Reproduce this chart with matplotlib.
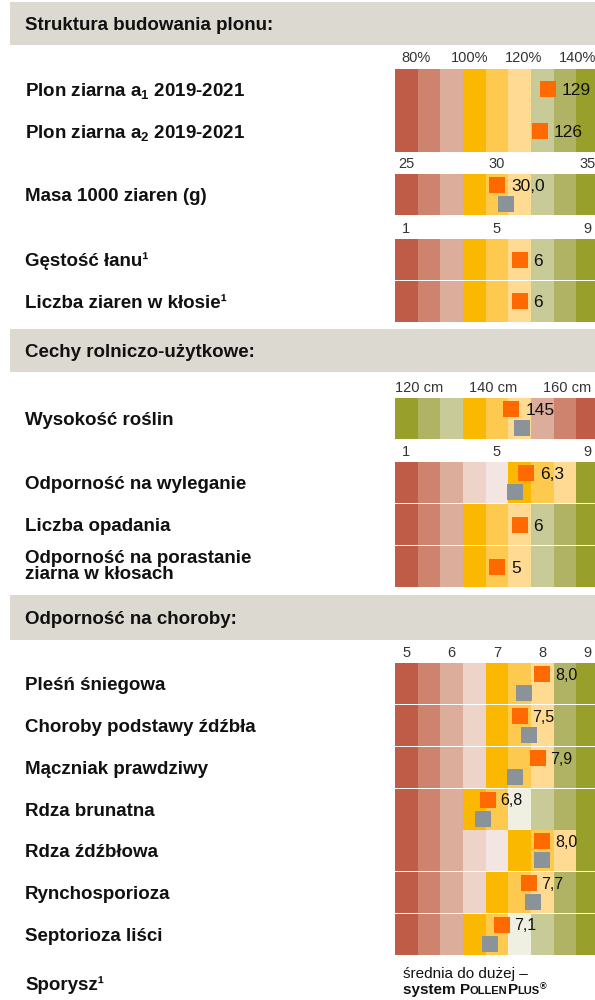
import matplotlib
matplotlib.use('Agg')
import matplotlib.pyplot as plt
import numpy as np
from matplotlib.patches import Rectangle

plt.rcParams['font.family'] = ['Liberation Sans', 'DejaVu Sans']
plt.rcParams['mathtext.fontset'] = 'custom'
plt.rcParams['mathtext.rm'] = 'Liberation Sans'
plt.rcParams['mathtext.bf'] = 'Liberation Sans:bold'
plt.rcParams['mathtext.default'] = 'regular'

# kolory skali (9 pol)
R1, R2, R3 = '#BE5C48', '#CD836E', '#DDAD9B'
P1, P2 = '#EED3C9', '#F3E6E2'
Y1, Y2, Y3 = '#FBB800', '#FDC94F', '#FEDA93'
CR = '#EFEFE2'
G1, G2, G3 = '#C8CA98', '#B0B264', '#98A02B'
POMARANCZ = '#FF6A00'
SZARY = '#8A9399'
TLO_NAGLOWKA = '#DCDAD0'

sekcje = ['Struktura budowania plonu:', 'Cechy rolniczo-użytkowe:', 'Odporność na choroby:']

cechy = ['Plon ziarna a$_\\mathbf{1}$ 2019-2021', 'Plon ziarna a$_\\mathbf{2}$ 2019-2021',
         'Masa 1000 ziaren (g)',
         'Gęstość łanu¹', 'Liczba ziaren w kłosie¹',
         'Wysokość roślin', 'Odporność na wyleganie', 'Liczba opadania',
         'Odporność na porastanie\nziarna w kłosach',
         'Pleśń śniegowa', 'Choroby podstawy źdźbła', 'Mączniak prawdziwy', 'Rdza brunatna',
         'Rdza źdźbłowa', 'Rynchosporioza', 'Septorioza liści']
odmiana = [129, 126, 30.0, 6, 6, 145, 6.3, 6, 5, 8.0, 7.5, 7.9, 6.8, 8.0, 7.7, 7.1]
odmiana_txt = ['129', '126', '30,0', '6', '6', '145', '6,3', '6', '5',
               '8,0', '7,5', '7,9', '6,8', '8,0', '7,7', '7,1']
wzorzec = [None, None, 30.5, None, None, 148, 5.8, None, None,
           7.6, 7.7, 7.4, 6.7, 8.0, 7.8, 6.85]
skala_wiersza = ['plon', 'plon', 'masa', 'pkt', 'pkt', 'cm', 'pkt', 'pkt', 'pkt',
                 'chor', 'chor', 'chor', 'chor', 'chor', 'chor', 'chor']

# wartosc -> pole (0..9): (v0, pole0, v1, pole1)
skale = {'plon': (100, 3.3, 140, 8.05),
         'masa': (25, 0.5, 35, 8.5),
         'pkt': (1, 0.5, 9, 8.5),
         'cm': (120, 1.06, 140, 4.32),
         'chor': (5, 0.5, 9, 8.5)}

podzialki = {0: ([80, 100, 120, 140], ['80%', '100%', '120%', '140%']),
             2: ([25, 30, 35], ['25', '30', '35']),
             3: ([1, 5, 9], ['1', '5', '9']),
             5: ([120, 140, 160], ['120 cm', '140 cm', '160 cm']),
             6: ([1, 5, 9], ['1', '5', '9']),
             9: ([5, 6, 7, 8, 9], ['5', '6', '7', '8', '9'])}

STD = [R1, R2, R3, Y1, Y2, Y3, G1, G2, G3]
ODWR = [G3, G2, G1, Y1, Y2, Y3, R3, R2, R1]
WYL = [R1, R2, R3, P1, P2, Y1, Y2, Y3, G3]
CH1 = [R1, R2, R3, P1, Y1, Y2, Y3, G2, G3]
CH2 = [R1, R2, R3, Y1, Y2, CR, G1, G2, G3]
kolory_wiersza = [STD, STD, STD, STD, STD, ODWR, WYL, STD, STD,
                  CH1, CH1, CH1, CH2, WYL, CH1, CH2]

# uklad (piksele)
W, H = 595, 1000
gora = [68.5, 110.5, 174, 239, 280.5, 398, 462, 504, 546,
        663, 705, 747, 788.5, 830, 872, 913.5]
wys_pasa = 41
pasy_naglowkow = [(2, 45), (329, 372), (595, 640)]
X0, POLE = 395, 22.67

fig = plt.figure(figsize=(W / 100, H / 100), dpi=100)
fig.patch.set_facecolor('white')
page = fig.add_axes([0, 0, 1, 1])
page.set_xlim(0, W)
page.set_ylim(H, 0)
page.axis('off')

FS_LAB = 13.5
cap = FS_LAB / 0.72 * 0.36

for (y0, y1), tytul in zip(pasy_naglowkow, sekcje):
    page.add_patch(Rectangle((10, y0), W - 10, y1 - y0, color=TLO_NAGLOWKA, lw=0))
    page.text(25, (y0 + y1) / 2 + cap, tytul, fontsize=FS_LAB, fontweight='bold',
              va='baseline', color='#111111')

def na_pole(v, klucz):
    v0, c0, v1, c1 = skale[klucz]
    return c0 + (v - v0) * (c1 - c0) / (v1 - v0)

for i in range(len(cechy)):
    yc = gora[i] + wys_pasa / 2
    if '\n' in cechy[i]:
        page.text(25, yc, cechy[i], fontsize=FS_LAB, fontweight='bold', va='center',
                  linespacing=0.9, color='#111111')
    else:
        page.text(25, yc + cap, cechy[i], fontsize=FS_LAB, fontweight='bold',
                  va='baseline', color='#111111')

    ax = fig.add_axes([X0 / W, 1 - (gora[i] + wys_pasa) / H, 9 * POLE / W, wys_pasa / H])
    ax.set_xlim(0, 9)
    ax.set_ylim(0, 1)
    ax.axis('off')
    ax.bar(np.arange(9), 1, width=1, align='edge', color=kolory_wiersza[i], linewidth=0)

    k = skala_wiersza[i]
    fs_val = 11.5 if k == 'chor' else 12.5
    odst = 9 if k == 'chor' else 10
    xo = na_pole(odmiana[i], k)
    if wzorzec[i] is None:
        yo = 0.5
    else:
        yo = 1 - 11 / wys_pasa
        ax.plot(na_pole(wzorzec[i], k), 1 - 30 / wys_pasa, 's', ms=11.5, mew=0, color=SZARY)
    ax.plot(xo, yo, 's', ms=11.5, mew=0, color=POMARANCZ)
    ax.annotate(odmiana_txt[i], (xo, yo), xytext=(odst, -fs_val * 0.36),
                textcoords='offset points', va='baseline', ha='left',
                fontsize=fs_val, color='#111111', annotation_clip=False)

    if i in podzialki:
        wart, tekst = podzialki[i]
        for v, t in zip(wart, tekst):
            ax.annotate(t, (na_pole(v, k), 1), xytext=(0, 7.5), textcoords='offset points',
                        ha='center', va='center', fontsize=10.5, color='#333333',
                        annotation_clip=False)

# Sporysz i stopka
page.text(25, 983 + cap, 'Sporysz¹', fontsize=FS_LAB, fontweight='bold', va='baseline',
          color='#111111')
page.text(403, 978, 'średnia do dużej –', fontsize=11, va='baseline', color='#111111')

r = fig.canvas.get_renderer()
x = 403
for s, fs, dy in [('system ', 11, 0), ('P', 11, 0), ('OLLEN', 8, 0), ('P', 11, 0),
                  ('LUS', 8, 0), ('®', 6.5, 5)]:
    t = page.text(x, 994 - dy, s, fontsize=fs, fontweight='bold', va='baseline',
                  color='#111111')
    x += t.get_window_extent(r).width

fig.savefig('out.png', dpi=100)
